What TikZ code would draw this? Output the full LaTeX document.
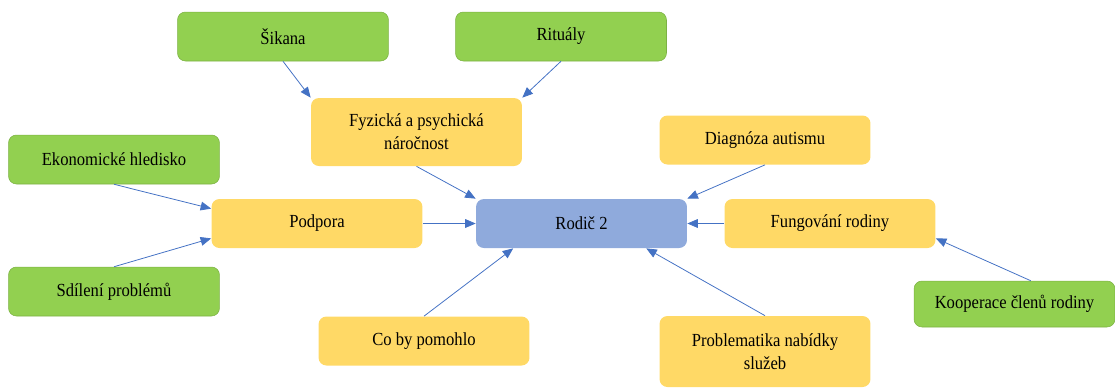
\documentclass[tikz,border=0pt]{standalone}
\usepackage{fontspec}
\setmainfont[FakeStretch=0.9]{Liberation Serif}
\usetikzlibrary{arrows.meta}
\definecolor{zelena}{HTML}{92D050}
\definecolor{zluta}{HTML}{FFD966}
\definecolor{modra}{HTML}{8FAADC}
\definecolor{sipka}{HTML}{4472C4}
\tikzset{
    box/.style={rounded corners=4.5pt, minimum width=4.22cm, minimum height=0.98cm,
        align=center, font=\fontsize{10.5}{13}\selectfont, inner sep=2pt},
    zelenybox/.style={box, fill=zelena, draw=zelena!85!black, line width=0.3pt},
    zlutybox/.style={box, fill=zluta},
    modrybox/.style={box, fill=modra},
    sip/.style={draw=sipka, line width=0.45pt, -{Triangle[width=5pt,length=6pt]}}
}
\begin{document}
\begin{tikzpicture}[x=0.02cm, y=-0.02cm]
    \useasboundingbox (0,0) rectangle (1115,387);
    % stredovy uzel
    \node[modrybox] (rodic) at (581.5,223.5) {Rodič 2};
    % prvni uroven
    \node[zlutybox, minimum height=1.36cm] (fyz) at (416.5,132) {Fyzická a psychická\\náročnost};
    \node[zlutybox] (diag) at (765,140) {Diagnóza autismu};
    \node[zlutybox] (podpora) at (317,223.5) {Podpora};
    \node[zlutybox] (fung) at (830,223.5) {Fungování rodiny};
    \node[zlutybox] (pomoc) at (424,341) {Co by pomohlo};
    \node[zlutybox, minimum height=1.42cm] (sluzby) at (765,351.5) {Problematika nabídky\\služeb};
    % druha uroven
    \node[zelenybox] (sikana) at (283,36.5) {Šikana};
    \node[zelenybox] (ritualy) at (561,36.5) {Rituály};
    \node[zelenybox] (ekon) at (114,159.5) {Ekonomické hledisko};
    \node[zelenybox] (sdileni) at (114,291.5) {Sdílení problémů};
    \node[zelenybox, minimum width=4.02cm, minimum height=0.92cm] (koop) at (1014.5,304) {Kooperace členů rodiny};
    % sipky
    \draw[sip] (sikana.south) -- (fyz.north west);
    \draw[sip] (ritualy.south) -- (fyz.north east);
    \draw[sip] (fyz.south) -- (rodic.north west);
    \draw[sip] (diag.south) -- (rodic.north east);
    \draw[sip] (ekon.south) -- (podpora.172);
    \draw[sip] (sdileni.north) -- (podpora.188);
    \draw[sip] (podpora.east) -- (rodic.west);
    \draw[sip] (fung.west) -- (rodic.east);
    \draw[sip] (koop.55) -- (fung.-8);
    \draw[sip] (pomoc.north) -- (rodic.200);
    \draw[sip] (sluzby.north) -- (rodic.-21);
\end{tikzpicture}
\end{document}
